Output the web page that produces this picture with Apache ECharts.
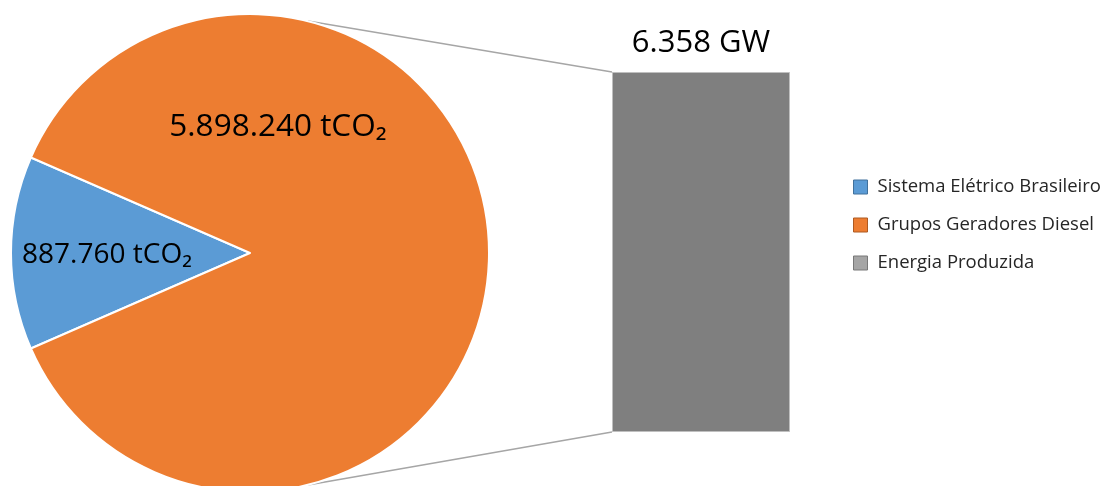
<!DOCTYPE html>
<html>
<head>
<meta charset="utf-8">
<script src="https://cdn.jsdelivr.net/npm/echarts@6/dist/echarts.min.js"></script>
<style>
  html, body { margin: 0; padding: 0; background: #fff; }
  #main { width: 1104px; height: 486px; }
</style>
</head>
<body>
<div id="main"></div>
<script>
// dados do gráfico
var pieNames = ['Sistema Elétrico Brasileiro', 'Grupos Geradores Diesel'];
var pieValues = [887760, 5898240];
var pieColors = ['#5b9bd5', '#ed7d31'];
var barName = 'Energia Produzida';
var barValues = [6.358];
var barUnit = 'GW';

// formata número no padrão brasileiro (ponto como separador de milhar)
function fmt(v) {
    return String(v).replace(/\B(?=(\d{3})+(?!\d))/g, '.');
}

var cx = 250, cy = 253, r = 239;
var font = 'Open Sans';

var main = document.getElementById('main');
var myChart = echarts.init(main);

var option = {
    animation: false,
    legend: {
        orient: 'vertical',
        left: 848,
        top: 172,
        itemWidth: 14,
        itemHeight: 14,
        itemGap: 18,
        icon: 'rect',
        textStyle: {
            fontFamily: font,
            fontSize: 18.5,
            color: '#262626',
            lineHeight: 20,
            padding: [0, 0, 0, 5]
        },
        data: [
            { name: pieNames[0], itemStyle: { color: pieColors[0], borderColor: '#41719c', borderWidth: 1 } },
            { name: pieNames[1], itemStyle: { color: pieColors[1], borderColor: '#ae5a21', borderWidth: 1 } },
            { name: barName, itemStyle: { color: '#a5a5a5', borderColor: '#787878', borderWidth: 1 } }
        ]
    },
    grid: {
        left: 612,
        top: 72,
        width: 178,
        height: 360
    },
    xAxis: {
        type: 'category',
        data: [barName],
        show: false
    },
    yAxis: {
        type: 'value',
        min: 0,
        max: barValues[0],
        show: false
    },
    series: [
        {
            name: 'Emissões',
            type: 'pie',
            center: [cx, cy],
            radius: r,
            startAngle: 180 + 360 * pieValues[0] / (pieValues[0] + pieValues[1]) / 2,
            clockwise: true,
            // 标签
            label: {
                show: true,
                position: 'inside',
                fontFamily: font,
                fontSize: 31.5,
                color: '#000',
                formatter(item) {
                    return fmt(item.value) + ' tCO₂';
                }
            },
            labelLayout(params) {
                var pos = [[107, 255], [278, 127]];
                return { x: pos[params.dataIndex][0], y: pos[params.dataIndex][1], align: 'center', verticalAlign: 'middle' };
            },
            itemStyle: {
                borderColor: '#fff',
                borderWidth: 2
            },
            emphasis: { disabled: true },
            data: pieNames.map(function (n, i) {
                var d = { name: n, value: pieValues[i], itemStyle: { color: pieColors[i] } };
                // fatia menor com fonte um pouco menor
                if (i === 0) d.label = { fontSize: 28 };
                return d;
            })
        },
        {
            name: barName,
            type: 'bar',
            barWidth: '100%',
            itemStyle: {
                color: '#7f7f7f',
                borderColor: '#bfbfbf',
                borderWidth: 1
            },
            label: {
                show: true,
                position: 'top',
                distance: 13,
                fontFamily: font,
                fontSize: 31,
                color: '#000',
                formatter(item) {
                    return String(item.value) + ' ' + barUnit;
                }
            },
            data: barValues
        }
    ]
};
myChart.setOption(option);

// linhas de ligação entre a pizza e a barra
var a = 76 * Math.PI / 180;
var topCorner = myChart.convertToPixel({ gridIndex: 0 }, [0, barValues[0]]);
var botCorner = myChart.convertToPixel({ gridIndex: 0 }, [0, 0]);
var barLeft = 612;
myChart.setOption({
    graphic: [
        {
            type: 'line',
            z: -1,
            shape: { x1: cx + r * Math.cos(a), y1: cy - r * Math.sin(a), x2: barLeft, y2: topCorner[1] },
            style: { stroke: '#a6a6a6', lineWidth: 1.5 }
        },
        {
            type: 'line',
            z: -1,
            shape: { x1: cx + r * Math.cos(a), y1: cy + r * Math.sin(a), x2: barLeft, y2: botCorner[1] },
            style: { stroke: '#a6a6a6', lineWidth: 1.5 }
        }
    ]
});
</script>
</body>
</html>
